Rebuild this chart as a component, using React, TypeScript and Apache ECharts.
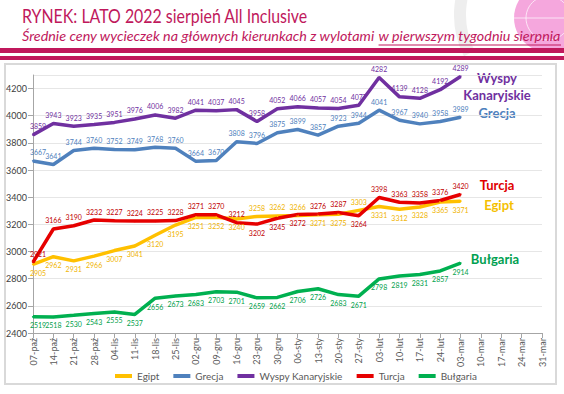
import React, { useEffect, useRef } from "react";
import * as echarts from "echarts";

const categories = [
  "07-paź", "14-paź", "21-paź", "28-paź", "04-lis", "11-lis", "18-lis", "25-lis",
  "02-gru", "09-gru", "16-gru", "23-gru", "30-gru", "06-sty", "13-sty", "20-sty",
  "27-sty", "03-lut", "10-lut", "17-lut", "24-lut", "03-mar", "10-mar", "17-mar",
  "24-mar", "31-mar",
];

const egipt = [2905, 2962, 2931, 2966, 3007, 3041, 3120, 3195, 3251, 3252, 3240, 3258, 3262, 3266, 3271, 3275, 3303, 3331, 3312, 3328, 3365, 3371];
const grecja = [3667, 3641, 3744, 3760, 3752, 3749, 3768, 3760, 3664, 3670, 3808, 3796, 3875, 3899, 3857, 3923, 3944, 4041, 3967, 3940, 3958, 3989];
const wyspy = [3859, 3943, 3923, 3935, 3951, 3976, 4006, 3982, 4041, 4037, 4045, 3958, 4052, 4066, 4057, 4054, 4077, 4282, 4139, 4128, 4192, 4289];
const turcja = [2921, 3166, 3190, 3232, 3227, 3224, 3225, 3228, 3271, 3270, 3212, 3202, 3245, 3272, 3276, 3287, 3264, 3398, 3363, 3358, 3376, 3420];
const bulgaria = [2519, 2518, 2530, 2543, 2555, 2537, 2656, 2673, 2683, 2703, 2701, 2659, 2662, 2706, 2726, 2683, 2671, 2798, 2819, 2831, 2857, 2914];

const title = "RYNEK: LATO 2022 sierpień All Inclusive";
const subtitleA = "Średnie ceny wycieczek na głównych kierunkach z wylotami ";
const subtitleB = "w pierwszym tygodniu sierpnia";

// label placement exceptions (indices)
const turcjaBelow = [11, 12, 13, 16];
const egiptAbove = [11, 12, 13, 16];

const FONT = "Lato, 'Open Sans', sans-serif";
const MAGENTA = "#C0185C";

function measure(text: string, font: string): number {
  const c = document.createElement("canvas").getContext("2d");
  if (!c) return text.length * 6;
  c.font = font;
  return c.measureText(text).width;
}

export default function App() {
  const ref = useRef<HTMLDivElement>(null);
  useEffect(() => {
    if (!ref.current) return;
    const chart = echarts.init(ref.current, undefined, { renderer: "svg" });

    const titleFont = "20px Lato";
    const titleScale = 286 / measure(title, titleFont);
    const subFont = "italic 14px Lato";
    const subX = 22;
    const wA0 = measure(subtitleA, subFont);
    const wB0 = measure(subtitleB, subFont);
    const subScale = 539 / (wA0 + wB0);
    const wA = wA0 * subScale;
    const wB = wB0 * subScale;

    const mk = (
      name: string,
      data: number[],
      color: string,
      labelColor: string,
      pos: "top" | "bottom",
      flip: number[]
    ) => ({
      name,
      type: "line",
      data: data.map((v, i) =>
        flip.includes(i)
          ? { value: v, label: { position: pos === "top" ? "bottom" : "top" } }
          : v
      ),
      symbol: "circle",
      symbolSize: 2,
      showSymbol: true,
      lineStyle: { color, width: 3.5 },
      itemStyle: { color },
      label: {
        show: true,
        position: pos,
        distance: 4,
        fontSize: 7,
        fontFamily: FONT,
        color: labelColor,
      },
      labelLayout: (p: any) => (p.dataIndex === 0 ? { dx: 5 } : {}),
      z: 3,
    });

    const sideFont = "bold 13px Lato";

    chart.setOption({
      animation: false,
      backgroundColor: "#ffffff",
      textStyle: { fontFamily: FONT },
      grid: { left: 33, right: 22, top: 75, bottom: 61 },
      legend: {
        top: 366,
        left: 110,
        icon: "rect",
        itemWidth: 17,
        itemHeight: 4,
        itemGap: 14,
        textStyle: { fontSize: 10, color: "#595959", fontFamily: FONT },
        data: ["Egipt", "Grecja", "Wyspy Kanaryjskie", "Turcja", "Bułgaria"],
      },
      xAxis: {
        type: "category",
        data: categories,
        boundaryGap: false,
        axisLine: { lineStyle: { color: "#a6a6a6" } },
        axisTick: { show: true, lineStyle: { color: "#a6a6a6" } },
        axisLabel: { rotate: 90, fontSize: 9, color: "#595959", interval: 0, margin: 5 },
      },
      yAxis: {
        type: "value",
        min: 2400,
        max: 4300,
        interval: 200,
        axisLine: { show: true, lineStyle: { color: "#a6a6a6" } },
        axisTick: { show: true, lineStyle: { color: "#a6a6a6" } },
        axisLabel: {
          fontSize: 9,
          color: "#404040",
          showMaxLabel: false,
          margin: 6,
          formatter: (v: number) => String(v),
        },
        splitLine: { lineStyle: { color: "#e6e6e6" } },
      },
      series: [
        mk("Egipt", egipt, "#FFC000", "#F0B400", "bottom", egiptAbove),
        mk("Grecja", grecja, "#4F81BD", "#4F81BD", "top", []),
        mk("Wyspy Kanaryjskie", wyspy, "#7030A0", "#7030A0", "top", []),
        mk("Turcja", turcja, "#E60000", "#C00000", "top", turcjaBelow),
        mk("Bułgaria", bulgaria, "#00B050", "#00A04A", "bottom", []),
      ],
      graphic: [
        // watermark arc
        { type: "arc", shape: { cx: 545, cy: 15, r: 85, startAngle: Math.PI * 0.85, endAngle: Math.PI * 1.2 }, style: { stroke: "#eeeeee", lineWidth: 12, fill: null }, z: -10 },
        // globe
        { type: "circle", shape: { cx: 548, cy: 18, r: 34 }, style: { fill: "#F28AD2", opacity: 0.75 }, z: -5 },
        { type: "arc", shape: { cx: 548, cy: 18, r: 22, startAngle: 0, endAngle: Math.PI * 2 }, style: { stroke: "#ffffff", lineWidth: 1, fill: null, opacity: 0.7 }, z: -4 },
        { type: "line", shape: { x1: 514, y1: 18, x2: 564, y2: 18 }, style: { stroke: "#ffffff", lineWidth: 1, opacity: 0.7 }, z: -4 },
        // title
        { type: "text", x: 22, y: 5, scaleX: titleScale, style: { text: title, font: titleFont, fill: MAGENTA } },
        { type: "text", x: subX, y: 29, scaleX: subScale, style: { text: subtitleA, font: subFont, fill: MAGENTA } },
        { type: "text", x: subX + wA, y: 29, scaleX: subScale, style: { text: subtitleB, font: subFont, fill: MAGENTA } },
        { type: "line", shape: { x1: subX + wA, y1: 45, x2: subX + wA + wB, y2: 45 }, style: { stroke: MAGENTA, lineWidth: 1 } },
        // bands
        { type: "rect", shape: { x: 0, y: 48, width: 564, height: 5 }, style: { fill: MAGENTA } },
        { type: "rect", shape: { x: 0, y: 56, width: 564, height: 4 }, style: { fill: MAGENTA } },
        // chart box
        { type: "rect", shape: { x: 5, y: 64, width: 551, height: 320 }, style: { fill: null, stroke: "#d9d9d9", lineWidth: 2 }, z: -1 },
        // right side series names
        { type: "text", x: 497, y: 69, style: { text: "Wyspy\nKanaryjskie", font: sideFont, fill: "#7030A0", align: "center", lineHeight: 17 } },
        { type: "text", x: 497, y: 106, style: { text: "Grecja", font: sideFont, fill: "#4F81BD", align: "center" } },
        { type: "text", x: 497, y: 178, style: { text: "Turcja", font: sideFont, fill: "#E00000", align: "center" } },
        { type: "text", x: 499, y: 198, style: { text: "Egipt", font: sideFont, fill: "#F5C000", align: "center" } },
        { type: "text", x: 495, y: 252, style: { text: "Bułgaria", font: sideFont, fill: "#00A050", align: "center" } },
      ],
    });
    return () => chart.dispose();
  }, []);
  return (
    <div
      ref={ref}
      style={{ position: "fixed", left: 0, top: 0, width: 564, height: 394 }}
    />
  );
}
